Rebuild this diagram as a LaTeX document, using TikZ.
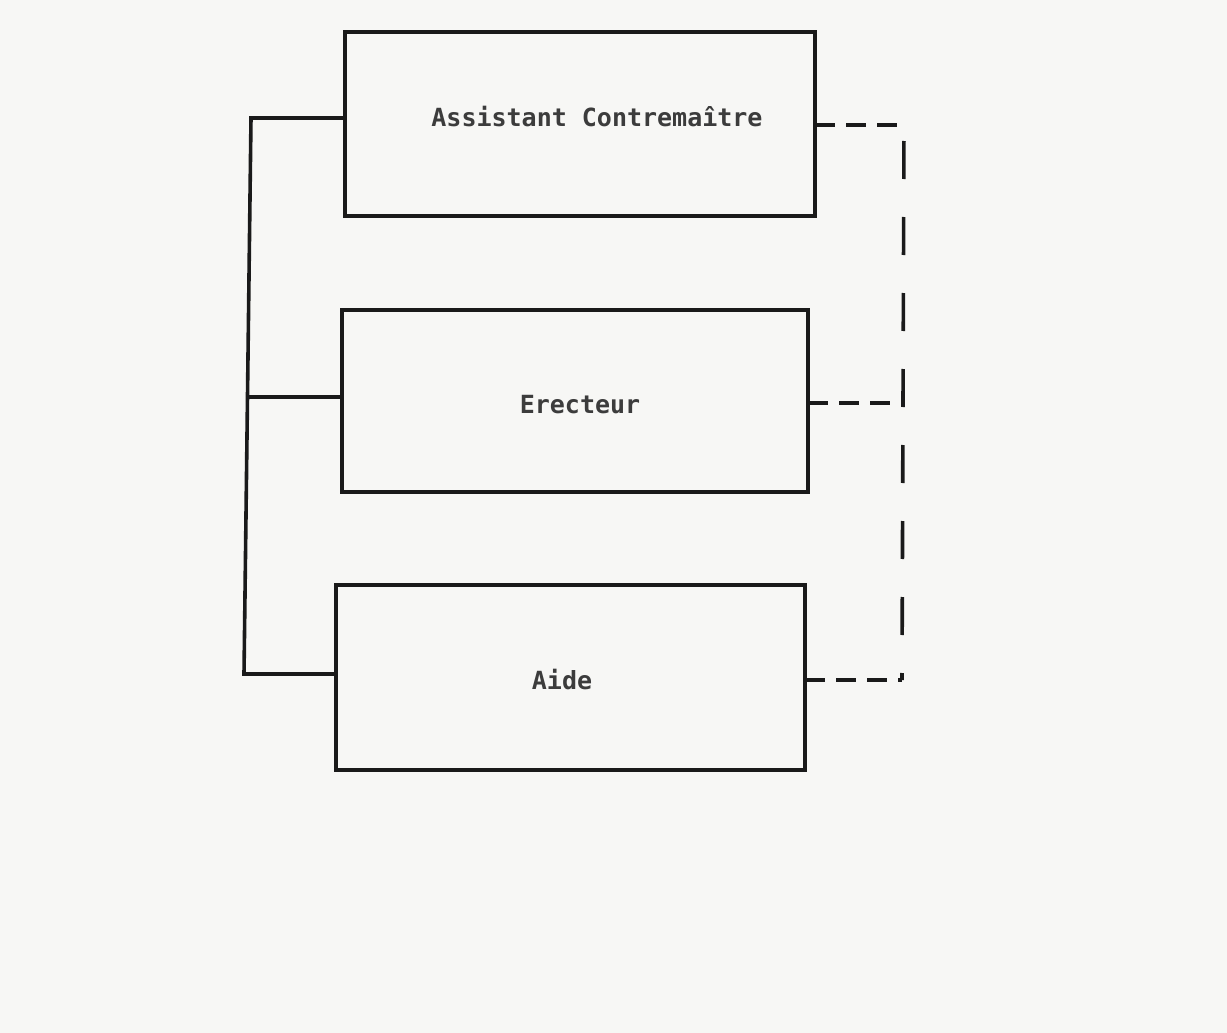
\documentclass[tikz,border=0pt]{standalone}
\usepackage{fontspec}
\newfontfamily\monofont{DejaVu Sans Mono}
\definecolor{paper}{HTML}{F7F7F5}
\definecolor{ink}{HTML}{1A1A1A}
\begin{document}
\begin{tikzpicture}[x=1pt,y=-1pt,
  boxstyle/.style={draw=ink,line width=3.4pt,rectangle,inner sep=0pt,outer sep=0pt},
  lbl/.style={font=\monofont\bfseries\fontsize{25}{30}\selectfont,text=ink!85,inner sep=0pt},
  solidline/.style={draw=ink,line width=3.6pt},
  hdash/.style={draw=ink,line width=3.4pt,dash pattern=on 20pt off 11pt},
  vdash/.style={draw=ink,line width=3.6pt,dash pattern=on 0pt off 16pt on 38pt off 22pt}]
\fill[paper] (0,0) rectangle (1227,1033);
\useasboundingbox (0,0) rectangle (1227,1033);
% boxes
\node[boxstyle,minimum width=470pt,minimum height=184pt] (ac) at (580,124) {};
\node[boxstyle,minimum width=466pt,minimum height=182pt] (er) at (575,401) {};
\node[boxstyle,minimum width=469pt,minimum height=185pt] (ai) at (570.5,677.5) {};
% labels
\node[lbl] (tac) at (597,117) {Assistant Contremaître};
\node[lbl] (ter) at (580,405) {Erecteur};
\node[lbl] (tai) at (562,680) {Aide};
% left bus
\coordinate (b1) at (251,118);
\coordinate (b2) at (248,397);
\coordinate (b3) at (244,674);
\draw[solidline,line join=miter] (ac.west |- b1) -- (b1) -- (b3) -- (ai.west |- b3);
\draw[solidline] (b2) -- (er.west |- b2);
% right dashed links
\coordinate (r1) at (904,125);
\coordinate (r2) at (903,403);
\coordinate (r3) at (902,680);
\draw[hdash] (ac.east |- r1) -- (r1);
\draw[vdash] (r1) -- (r3);
\draw[hdash] (er.east |- r2) -- (r2);
\draw[hdash] (ai.east |- r3) -- (r3);
\end{tikzpicture}
\end{document}
